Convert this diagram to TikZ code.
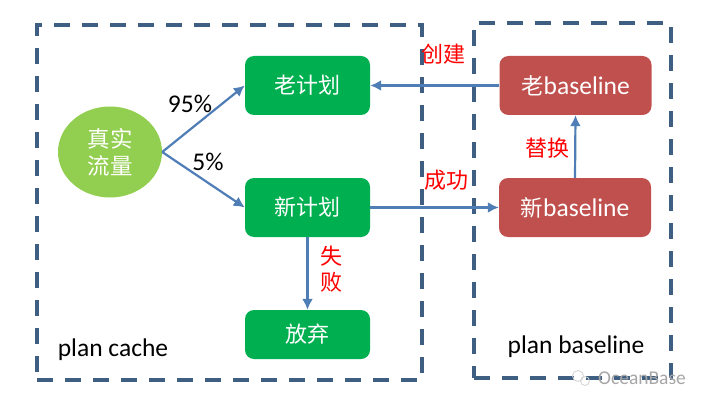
\documentclass[tikz,border=0pt]{standalone}
\usepackage{fontspec}
\usetikzlibrary{arrows.meta, shapes.geometric}
\setmainfont{Carlito}
\newfontfamily\cjk{Noto Sans CJK SC}
\newcommand{\basezi}[1]{{\fontsize{22.5}{25}\selectfont\cjk #1}}

\definecolor{dashblue}{HTML}{3F5F82}
\definecolor{arrowblue}{HTML}{4F7DB5}
\definecolor{plangreen}{HTML}{00B050}
\definecolor{basered}{HTML}{C0504D}
\definecolor{flowgreen}{HTML}{92CE4F}

\tikzset{
	region/.style={draw=dashblue, line width=4pt, dash pattern=on 16pt off 12pt, minimum height=355pt, inner sep=0pt},
	plan/.style={fill=plangreen, rounded corners=9pt, minimum width=125pt, minimum height=59pt, text=white, font=\fontsize{22}{25}\selectfont\cjk, inner sep=0pt},
	base/.style={fill=basered, rounded corners=9pt, minimum width=152pt, minimum height=59pt, text=white, font=\fontsize{25.5}{28}\selectfont, inner sep=0pt},
	flow/.style={draw=arrowblue, line width=2.2pt, -{Latex[length=11pt, width=11pt]}},
	redlabel/.style={text=red, font=\fontsize{22}{26}\selectfont\cjk, inner sep=0pt, align=center},
	blacklabel/.style={text=black, font=\fontsize{25.5}{29}\selectfont, inner sep=0pt},
	markring/.style={draw=gray!35, line width=0.8pt, circle, inner sep=0pt}
}

\begin{document}
\begin{tikzpicture}[x=1pt, y=1pt]
	\useasboundingbox (0,0) rectangle (708,-406);

	\node[region, minimum width=385pt] (cache) at (229.5,-202.5) {};
	\node[region, minimum width=197pt] (baseline) at (572.5,-200.5) {};

	\node[ellipse, fill=flowgreen, minimum width=104pt, minimum height=91pt, inner sep=0pt, text=white, align=center, font=\fontsize{22.5}{27}\selectfont\cjk] (real) at (110,-152) {真实\\流量};
	\node[plan] (oldplan) at (307.5,-85.5) {老计划};
	\node[plan] (newplan) at (307.5,-207.5) {新计划};
	\node[plan, minimum height=49pt] (drop) at (307.5,-334.5) {放弃};
	\node[base] (oldbase) at (575.5,-85.5) {\basezi{老}baseline};
	\node[base] (newbase) at (575,-207.5) {\basezi{新}baseline};

	\draw[flow] (real.east) -- (oldplan.west);
	\draw[flow] (real.east) -- (newplan.west);
	\draw[flow] (newplan.south) -- (drop.north);
	\draw[flow] (newplan.east) -- (newbase.west);
	\draw[flow] (newbase.north) -- (oldbase.south);
	\draw[flow] (oldbase.west) -- (oldplan.east);

	\node[blacklabel] (high) at (190,-104) {95\%};
	\node[blacklabel] (low) at (208,-162) {5\%};
	\node[redlabel] (create) at (443,-54) {创建};
	\node[redlabel] (success) at (446,-180) {成功};
	\node[redlabel] (swap) at (547,-148) {替换};
	\node[redlabel] (fail) at (331,-269) {失\\败};
	\node[blacklabel] (cachename) at (113,-350) {plan cache};
	\node[blacklabel] (basename) at (576,-347) {plan baseline};
	\node[markring, minimum size=11pt] (markleft) at (578,-376) {};
	\node[markring, minimum size=9pt] (markright) at (585,-381) {};
	\node[text=gray!70, font=\fontsize{19.5}{22}\selectfont, inner sep=0pt] (mark) at (642,-378) {OceanBase};
\end{tikzpicture}
\end{document}
